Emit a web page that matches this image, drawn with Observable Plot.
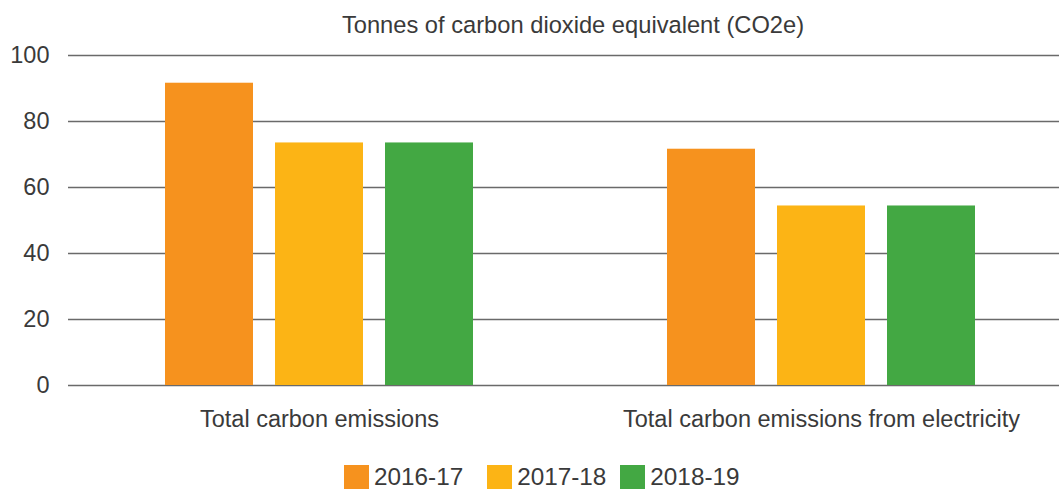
<!DOCTYPE html>
<html>
<head>
<meta charset="utf-8">
<script src="https://cdn.jsdelivr.net/npm/d3@7"></script>
<script src="https://cdn.jsdelivr.net/npm/@observablehq/plot@0.6"></script>
<style>
  body { margin: 0; background: #fff; font-family: "Liberation Sans", Arial, sans-serif; color: #3a3a3a; position: relative; width: 1059px; height: 489px; overflow: hidden; }
  #title { position: absolute; left: 0; top: 0; height: 50px; line-height: 50px; font-size: 23.7px; text-align: center; padding-left: 87px; width: 972px; }
  #chart { position: absolute; left: 0; top: 0; }
  #legend { position: absolute; left: 0; top: 455px; display: flex; align-items: center; padding-left: 344px; height: 44px; font-size: 24.3px; }
  .item { display: flex; align-items: center; }
  .sw { width: 25px; height: 24px; margin-right: 5px; }
</style>
</head>
<body>
<div id="chart"></div>
<div id="title">Tonnes of carbon dioxide equivalent (CO2e)</div>
<div id="legend"></div>
<script>
const categories = ["Total carbon emissions", "Total carbon emissions from electricity"];
const years = ["2016-17", "2017-18", "2018-19"];
const values2016 = [91.6, 71.6];
const values2017 = [73.5, 54.4];
const values2018 = [73.5, 54.4];
const colors = ["#F6921E", "#FCB415", "#43A843"];
const yTicks = [0, 20, 40, 60, 80, 100];

const series = [values2016, values2017, values2018];
const data = [];
categories.forEach((c, i) => years.forEach((y, j) => data.push({category: c, year: y, value: series[j][i]})));

const chart = Plot.plot({
  width: 1059,
  height: 445,
  marginTop: 55,
  marginBottom: 60,
  marginLeft: 68,
  marginRight: 0,
  style: {fontSize: "23.5px", fontFamily: "Liberation Sans, Arial, sans-serif", color: "#3a3a3a", background: "transparent"},
  fx: {domain: categories, range: [68, 1072], padding: 0, tickSize: 0, tickPadding: 25, label: null},
  x: {domain: years, paddingInner: 0.2036, paddingOuter: 0.873, axis: null},
  y: {domain: [0, 100], ticks: yTicks, tickSize: 0, tickPadding: 19, label: null},
  color: {domain: years, range: colors},
  marks: [
    Plot.ruleY(yTicks, {stroke: "#6a6a6a", strokeWidth: 1.4}),
    Plot.barY(data, {fx: "category", x: "year", y: "value", fill: "year"})
  ]
});
document.getElementById("chart").appendChild(chart);

const legend = document.getElementById("legend");
const gaps = [24, 14, 0];
years.forEach((y, i) => {
  const it = document.createElement("div");
  it.className = "item";
  it.style.marginRight = gaps[i] + "px";
  const sw = document.createElement("div");
  sw.className = "sw";
  sw.style.background = colors[i];
  const t = document.createElement("span");
  t.textContent = y;
  it.appendChild(sw);
  it.appendChild(t);
  legend.appendChild(it);
});
</script>
</body>
</html>
